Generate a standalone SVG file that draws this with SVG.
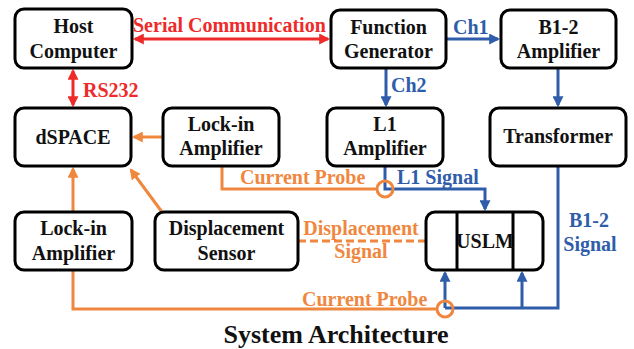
<svg xmlns="http://www.w3.org/2000/svg" width="634" height="349" viewBox="0 0 634 349">
<style>
.box{fill:#fff;stroke:#000;stroke-width:3}
.t{font-family:"Liberation Serif","Times New Roman",serif;font-weight:bold;font-size:20px;text-anchor:middle;fill:#111}
.lr{font-family:"Liberation Serif","Times New Roman",serif;font-weight:bold;font-size:20px;fill:#EE2A2A}
.lb{font-family:"Liberation Serif","Times New Roman",serif;font-weight:bold;font-size:20px;fill:#2F5DA9}
.lo{font-family:"Liberation Serif","Times New Roman",serif;font-weight:bold;font-size:20px;fill:#F0873F}
.red{stroke:#EE2A2A;stroke-width:3;fill:none}
.blue{stroke:#2F5DA9;stroke-width:3;fill:none}
.orange{stroke:#F0873F;stroke-width:3;fill:none}
</style>
<defs>
<marker id="ar" viewBox="0 0 10 10" refX="8" refY="5" markerWidth="11" markerHeight="11" markerUnits="userSpaceOnUse" orient="auto-start-reverse"><path d="M0,0 L10,5 L0,10 z" fill="#EE2A2A"/></marker>
<marker id="ab" viewBox="0 0 10 10" refX="8" refY="5" markerWidth="11" markerHeight="11" markerUnits="userSpaceOnUse" orient="auto-start-reverse"><path d="M0,0 L10,5 L0,10 z" fill="#2F5DA9"/></marker>
<marker id="ao" viewBox="0 0 10 10" refX="8" refY="5" markerWidth="11" markerHeight="11" markerUnits="userSpaceOnUse" orient="auto-start-reverse"><path d="M0,0 L10,5 L0,10 z" fill="#F0873F"/></marker>
</defs>

<g id="connectors">
  <line class="red" x1="135" y1="39" x2="328" y2="39" marker-start="url(#ar)" marker-end="url(#ar)"/>
  <line class="red" x1="73" y1="71" x2="73" y2="105" marker-start="url(#ar)" marker-end="url(#ar)"/>
  <line class="blue" x1="446" y1="39" x2="498" y2="39" marker-end="url(#ab)"/>
  <line class="blue" x1="386" y1="69" x2="386" y2="105" marker-end="url(#ab)"/>
  <line class="blue" x1="558" y1="68" x2="558" y2="105" marker-end="url(#ab)"/>
  <polyline class="blue" points="385,166 385,189 485,189 485,209" marker-end="url(#ab)"/>
  <polyline class="blue" points="558,166 558,308 445,308"/>
  <line class="blue" x1="445" y1="308" x2="445" y2="273" marker-end="url(#ab)"/>
  <line class="blue" x1="522" y1="308" x2="522" y2="273" marker-end="url(#ab)"/>
  <line class="orange" x1="163" y1="137" x2="134" y2="137" marker-end="url(#ao)"/>
  <line class="orange" x1="73" y1="212" x2="73" y2="169" marker-end="url(#ao)"/>
  <line class="orange" x1="162" y1="212" x2="131" y2="170" marker-end="url(#ao)"/>
  <polyline class="orange" points="222,166 222,189 377,189"/>
  <circle class="orange" cx="385" cy="189" r="8"/>
  <polyline class="orange" points="73,270 73,309 437,309"/>
  <circle class="orange" cx="445" cy="309" r="8"/>
  <line class="orange" x1="298" y1="241" x2="426" y2="241" stroke-dasharray="8,4"/>
  <text class="lr" x="133" y="32">Serial Communication</text>
  <text class="lr" x="83" y="97">RS232</text>
  <text class="lb" x="453" y="34">Ch1</text>
  <text class="lb" x="391" y="92">Ch2</text>
  <text class="lo" x="240" y="184">Current Probe</text>
  <text class="lb" x="397" y="184">L1 Signal</text>
  <text class="lo" x="361" y="235" text-anchor="middle">Displacement</text>
  <text class="lo" x="361" y="258" text-anchor="middle">Signal</text>
  <text class="lo" x="302" y="306">Current Probe</text>
  <text class="lb" x="589" y="227" text-anchor="middle">B1-2</text>
  <text class="lb" x="590" y="251" text-anchor="middle">Signal</text>
</g>

<g id="host">
  <rect class="box" x="15" y="9" width="117" height="59" rx="9"/>
  <text class="t" x="73.5" y="33">Host</text>
  <text class="t" x="73.5" y="58">Computer</text>
</g>
<g id="dspace">
  <rect class="box" x="15" y="108" width="116" height="58" rx="9"/>
  <text class="t" x="73" y="144">dSPACE</text>
</g>
<g id="lockin1">
  <rect class="box" x="163" y="108" width="116" height="58" rx="9"/>
  <text class="t" x="221" y="131">Lock-in</text>
  <text class="t" x="221" y="155">Amplifier</text>
</g>
<g id="funcgen">
  <rect class="box" x="331" y="10" width="115" height="58" rx="9"/>
  <text class="t" x="388.5" y="34">Function</text>
  <text class="t" x="388.5" y="58">Generator</text>
</g>
<g id="b12amp">
  <rect class="box" x="501" y="10" width="115" height="58" rx="9"/>
  <text class="t" x="558.5" y="34">B1-2</text>
  <text class="t" x="558.5" y="58">Amplifier</text>
</g>
<g id="l1amp">
  <rect class="box" x="327" y="108" width="116" height="58" rx="9"/>
  <text class="t" x="385" y="131">L1</text>
  <text class="t" x="385" y="155">Amplifier</text>
</g>
<g id="transformer">
  <rect class="box" x="490" y="108" width="136" height="58" rx="9"/>
  <text class="t" x="558" y="143">Transformer</text>
</g>
<g id="lockin2">
  <rect class="box" x="15" y="212" width="117" height="58" rx="9"/>
  <text class="t" x="73.5" y="235">Lock-in</text>
  <text class="t" x="73.5" y="260">Amplifier</text>
</g>
<g id="dispsensor">
  <rect class="box" x="155" y="212" width="143" height="58" rx="9"/>
  <text class="t" x="226.5" y="235">Displacement</text>
  <text class="t" x="226.5" y="260">Sensor</text>
</g>
<g id="uslm">
  <rect class="box" x="426" y="212" width="117" height="58" rx="9"/>
  <line x1="457" y1="212" x2="457" y2="270" stroke="#000" stroke-width="3"/>
  <line x1="513" y1="212" x2="513" y2="270" stroke="#000" stroke-width="3"/>
  <text class="t" x="485" y="248">USLM</text>
</g>
<text class="t" x="336" y="343" style="font-size:26px">System Architecture</text>
</svg>
